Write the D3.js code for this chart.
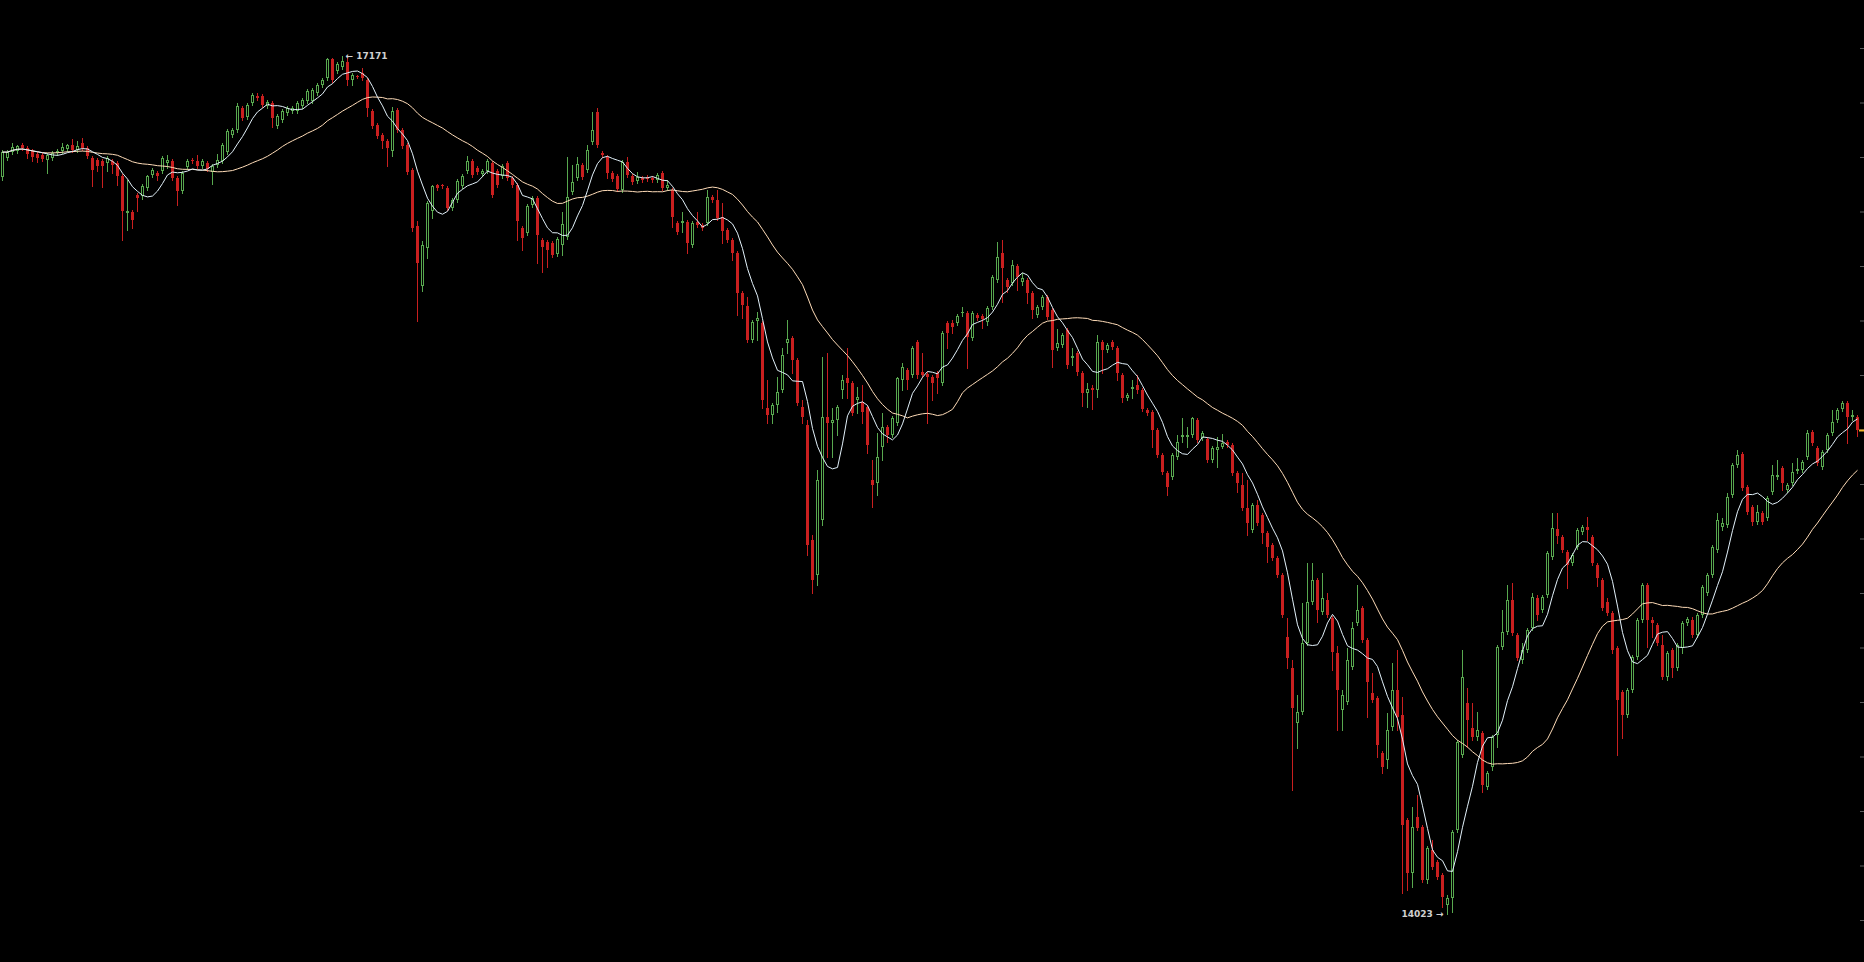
<!DOCTYPE html>
<html><head><meta charset="utf-8">
<script src="https://cdn.jsdelivr.net/npm/d3@7"></script>
<style>
html,body{margin:0;padding:0;background:#000;overflow:hidden}
svg{display:block}
</style></head><body>
<svg id="chart" width="1864" height="962"></svg>
<script>
const open = [
16726,16796,16818,16822,16844,16833,16822,16811,16807,16789,
16796,16814,16822,16829,16844,16826,16851,16833,16796,16789,
16785,16778,16785,16778,16730,16594,16598,16660,16657,16686,
16734,16741,16748,16778,16785,16723,16675,16763,16789,16785,
16767,16778,16745,16770,16785,16818,16880,16899,16980,16947,
16998,17024,17024,16987,16998,16914,16936,16961,16968,16968,
16987,17005,17005,17035,17064,17090,17158,17115,17130,17149,
17082,17097,17108,17082,16968,16917,16881,16859,16822,16972,
16899,16844,16752,16547,16326,16466,16602,16697,16697,16686,
16613,16642,16693,16748,16785,16759,16737,16748,16778,16748,
16730,16778,16723,16697,16539,16521,16624,16649,16495,16488,
16484,16444,16477,16506,16671,16723,16770,16752,16855,16965,
16814,16800,16741,16730,16679,16781,16730,16712,16723,16726,
16723,16715,16741,16686,16679,16558,16558,16561,16477,16561,
16550,16558,16653,16642,16580,16532,16495,16448,16301,16253,
16128,16198,16191,15879,15853,15890,15945,16117,16135,16055,
15882,15816,15394,15266,15468,15846,15824,15835,15945,15989,
15970,15908,15901,15882,15614,15603,15735,15809,15780,15824,
15981,16018,16000,16121,16011,16003,15992,16007,15970,16190,
16190,16190,16227,16227,16135,16220,16216,16194,16249,16348,
16448,16348,16337,16400,16341,16348,16301,16220,16249,16286,
16238,16099,16110,16165,16062,16081,16007,15934,15952,15945,
16121,16092,16121,16099,16000,15916,15948,15963,15945,15871,
15864,15798,15706,15640,15625,15699,15772,15772,15780,15835,
15768,15765,15688,15724,15735,15754,15743,15640,15596,15512,
15431,15523,15486,15420,15376,15328,15266,15038,14924,14723,
14763,15016,15167,15247,15130,15174,15108,14980,14770,14800,
14928,15090,15144,15027,14833,14814,14613,14587,14708,14844,
14752,14366,14172,14377,14341,14146,14257,14212,14165,14055,
14080,14330,14605,14796,14704,14671,14686,14488,14561,14679,
15002,15057,15174,15046,14954,14991,15071,15181,15137,15192,
15332,15434,15405,15350,15310,15369,15424,15442,15405,15302,
15247,15167,15126,14998,14836,14752,14844,14965,15101,15229,
15101,15082,15009,14891,14991,14924,14998,15090,15101,15046,
15119,15200,15266,15358,15442,15449,15559,15670,15710,15589,
15515,15460,15493,15475,15570,15625,15658,15578,15603,15647,
15651,15699,15790,15732,15662,15725,15787,15835,15875,15897,
15846,15846
];
const high = [
16826,16826,16851,16844,16851,16840,16829,16818,16814,16814,
16822,16829,16851,16848,16866,16859,16870,16840,16804,16796,
16792,16804,16792,16785,16737,16715,16605,16668,16701,16734,
16760,16748,16804,16807,16792,16730,16748,16792,16796,16807,
16792,16785,16774,16811,16851,16902,16906,16998,16987,16998,
17035,17035,17031,17009,17005,16957,16976,16987,16987,17005,
17016,17049,17053,17071,17090,17162,17163,17149,17171,17163,
17108,17101,17126,17090,16976,16925,16888,16866,16983,16980,
16906,16851,16760,16565,16492,16638,16697,16701,16701,16693,
16649,16719,16737,16804,16792,16767,16756,16792,16785,16756,
16774,16785,16730,16704,16547,16627,16657,16657,16503,16495,
16492,16506,16598,16800,16770,16800,16778,16844,16965,16980,
16822,16807,16748,16737,16789,16800,16737,16745,16730,16734,
16730,16741,16748,16715,16686,16565,16598,16569,16565,16598,
16558,16679,16660,16679,16631,16539,16503,16455,16308,16286,
16202,16231,16198,15981,15897,15993,16099,16202,16143,16062,
15908,15835,15413,15651,16066,16081,15879,15890,16000,16099,
15978,15956,15963,15890,15688,15787,15860,15816,15849,15992,
16044,16025,16106,16128,16081,16011,16000,16014,16161,16198,
16202,16223,16249,16234,16235,16227,16224,16253,16367,16488,
16495,16356,16422,16407,16374,16356,16308,16257,16293,16293,
16246,16168,16154,16172,16099,16088,16014,15970,15963,16147,
16128,16117,16128,16106,16007,15934,15981,16000,15952,15879,
15871,15805,15713,15647,15713,15780,15842,15809,15846,15842,
15794,15772,15739,15772,15783,15761,15750,15647,15640,15614,
15530,15541,15493,15427,15383,15335,15273,15108,14954,14825,
15163,15310,15310,15255,15273,15200,15115,15005,14844,14998,
15093,15229,15152,15034,14906,14822,14620,14759,14943,14991,
14818,14374,14414,14458,14348,14271,14293,14220,14172,14091,
14330,14660,14991,14851,14796,14763,14693,14547,14679,15009,
15137,15229,15236,15053,15016,15071,15200,15192,15192,15354,
15493,15493,15413,15358,15347,15438,15449,15479,15413,15310,
15255,15181,15134,15005,14844,14851,14972,15108,15236,15236,
15112,15090,15046,14987,14998,15016,15097,15112,15112,15126,
15229,15273,15376,15493,15475,15567,15677,15725,15717,15596,
15523,15523,15500,15556,15670,15688,15666,15603,15677,15695,
15688,15798,15798,15739,15725,15787,15871,15879,15904,15904,
15871,15853
];
const low = [
16715,16789,16811,16814,16826,16796,16785,16781,16785,16741,
16789,16807,16814,16822,16818,16818,16826,16796,16694,16748,
16690,16748,16741,16697,16495,16532,16539,16602,16646,16679,
16726,16715,16741,16759,16715,16624,16668,16756,16778,16759,
16759,16748,16701,16763,16778,16811,16873,16892,16936,16939,
16991,17009,16983,16980,16910,16906,16928,16954,16961,16961,
16980,16998,16998,17027,17057,17082,17075,17108,17123,17064,
17064,17090,17082,16950,16906,16870,16833,16767,16804,16892,
16833,16737,16528,16198,16308,16429,16576,16679,16686,16605,
16605,16635,16686,16741,16726,16737,16730,16741,16653,16690,
16723,16715,16690,16495,16459,16514,16616,16411,16378,16396,
16433,16437,16440,16499,16664,16715,16719,16745,16848,16837,
16800,16723,16712,16675,16671,16726,16701,16704,16708,16712,
16708,16708,16679,16679,16543,16517,16525,16448,16470,16543,
16532,16550,16635,16569,16484,16488,16422,16220,16209,16121,
16121,16128,15879,15824,15824,15864,15937,16081,16007,15890,
15824,15339,15200,15229,15449,15699,15699,15780,15916,15915,
15853,15860,15824,15713,15515,15559,15688,15754,15772,15816,
15945,15948,15992,15989,15992,15824,15908,15934,15963,16099,
16154,16183,16216,16026,16128,16202,16172,16183,16242,16341,
16268,16305,16330,16312,16330,16264,16209,16213,16242,16205,
16029,16092,16102,16025,16037,16000,15886,15882,15875,15919,
16007,16084,16095,15981,15901,15908,15916,15934,15868,15853,
15735,15699,15636,15559,15618,15692,15754,15735,15772,15754,
15761,15680,15680,15662,15732,15735,15633,15570,15504,15413,
15424,15449,15383,15313,15321,15258,15112,14924,14477,14631,
14756,15009,15159,15093,15122,15112,14917,14697,14697,14792,
14921,15082,15020,14745,14800,14598,14539,14557,14697,14697,
14099,14110,14121,14330,14139,14135,14187,14150,14047,14023,
14029,14323,14598,14634,14660,14660,14469,14480,14550,14634,
14994,15049,15046,14954,14943,14983,15064,15101,15130,15185,
15325,15383,15350,15218,15302,15361,15416,15394,15302,15225,
15137,15119,14980,14605,14668,14745,14836,14957,15093,15002,
15038,15009,14884,14880,14891,14917,14980,15082,15038,15038,
15112,15192,15258,15350,15431,15442,15552,15662,15578,15490,
15449,15453,15453,15468,15563,15618,15578,15570,15596,15640,
15644,15692,15743,15670,15655,15717,15780,15827,15868,15750,
15835,15776
];
const close = [
16818,16818,16837,16840,16833,16811,16800,16796,16792,16807,
16814,16822,16837,16844,16826,16840,16833,16804,16752,16767,
16767,16796,16770,16730,16602,16602,16569,16649,16693,16730,
16752,16730,16796,16789,16723,16675,16741,16785,16785,16767,
16785,16756,16767,16789,16844,16895,16899,16987,16943,16991,
17027,17016,16991,17002,16943,16950,16968,16980,16980,16998,
17009,17042,17046,17064,17082,17158,17082,17141,17152,17082,
17101,17093,17090,16980,16914,16877,16859,16833,16968,16899,
16840,16745,16539,16411,16477,16631,16693,16686,16693,16613,
16642,16712,16730,16785,16734,16745,16748,16785,16660,16697,
16767,16723,16697,16565,16503,16620,16649,16514,16470,16459,
16440,16499,16554,16653,16708,16774,16726,16826,16899,16844,
16807,16741,16719,16682,16781,16734,16708,16726,16715,16719,
16715,16734,16686,16697,16580,16525,16565,16484,16558,16550,
16539,16653,16642,16576,16528,16495,16448,16301,16257,16128,
16194,16209,15908,15853,15890,15938,16074,16132,16055,15897,
15846,15376,15248,15614,15846,15824,15835,15882,15981,15970,
15860,15919,15864,15743,15596,15699,15809,15780,15842,15989,
16029,15981,16099,16000,16000,15992,15970,15989,16154,16154,
16176,16216,16231,16139,16227,16209,16205,16246,16359,16433,
16392,16323,16403,16359,16356,16301,16238,16249,16286,16213,
16092,16117,16147,16037,16070,16011,15934,15948,15945,16121,
16092,16110,16102,16007,15916,15926,15955,15945,15875,15860,
15798,15706,15644,15589,15706,15754,15780,15780,15842,15761,
15787,15688,15732,15735,15750,15743,15640,15603,15512,15457,
15523,15457,15420,15368,15328,15266,15119,14961,14778,14763,
15016,15167,15247,15137,15181,15119,14983,14844,14825,14954,
15071,15137,15027,14873,14807,14642,14561,14697,14844,14745,
14348,14172,14341,14337,14146,14264,14194,14157,14084,14080,
14323,14653,14891,14734,14671,14697,14495,14539,14671,15002,
15057,15174,15053,14961,14991,15064,15185,15119,15185,15347,
15438,15409,15358,15302,15339,15431,15442,15431,15310,15255,
15144,15126,14991,14807,14752,14844,14965,15101,15229,15101,
15090,15016,14891,14980,14924,15009,15090,15104,15046,15119,
15222,15266,15368,15468,15457,15552,15670,15706,15585,15497,
15460,15497,15460,15548,15633,15633,15603,15596,15644,15655,
15680,15787,15750,15677,15717,15780,15827,15871,15897,15846,
15853,15798
];
const priceTicks = [14000,14200,14400,14600,14800,15000,15200,15400,15600,15800,16000,16200,16400,16600,16800,17000,17200];
const maShortPeriod = 7;
const maLongPeriod = 30;

const W = 1864, H = 962;
const UP = "#58a84f", DOWN = "#c91f1f";
const n = close.length;
const idx = d3.range(n);

const svg = d3.select("#chart");
svg.append("rect").attr("width", W).attr("height", H).attr("fill", "#000");

const x = d3.scaleBand().domain(idx).range([0, 1860]).paddingInner(0).paddingOuter(0);
const y = d3.scaleLinear().domain([14000, 17200]).range([920, 48]);
const col = i => Math.floor(x(i) + x.bandwidth() / 2);
const cx = i => x(i) + x.bandwidth() / 2;

// right edge ticks
const axis = d3.axisLeft(y).tickValues(priceTicks).tickSize(4).tickFormat("");
const ag = svg.append("g").attr("transform", `translate(${W},0)`).call(axis);
ag.select(".domain").remove();
ag.selectAll(".tick line").attr("stroke", "#5a5a5a");

// candles
const cg = svg.append("g");
const isUp = i => close[i] >= open[i];
cg.selectAll("line.wick").data(idx).join("line")
  .attr("class", "wick")
  .attr("x1", i => col(i) + 0.5).attr("x2", i => col(i) + 0.5)
  .attr("y1", i => Math.round(y(high[i]))).attr("y2", i => Math.round(y(low[i])) + 1)
  .attr("stroke", i => isUp(i) ? UP : DOWN).attr("stroke-width", 1);

cg.selectAll("rect.dn").data(idx.filter(i => !isUp(i))).join("rect")
  .attr("class", "dn")
  .attr("x", i => col(i) - 1).attr("width", 3)
  .attr("y", i => Math.round(y(open[i])))
  .attr("height", i => Math.max(1, Math.round(y(close[i])) - Math.round(y(open[i]))))
  .attr("fill", DOWN);

cg.selectAll("rect.up").data(idx.filter(isUp)).join("rect")
  .attr("class", "up")
  .attr("x", i => col(i) - 0.5).attr("width", 2)
  .attr("y", i => Math.round(y(close[i])) + 0.5)
  .attr("height", i => Math.max(0.01, Math.round(y(open[i])) - Math.round(y(close[i])) - 1))
  .attr("fill", "#000").attr("stroke", UP).attr("stroke-width", 1);

// moving averages
function sma(vals, p) {
  return vals.map((v, i) => d3.mean(vals.slice(Math.max(0, i - p + 1), i + 1)));
}
const maLong = sma(close, maLongPeriod);
const maShort = sma(close, maShortPeriod);
const line = arr => d3.line().x(i => cx(i)).y(i => y(arr[i]))(idx);
svg.append("path").attr("d", line(maLong)).attr("fill", "none").attr("stroke", "#ffdcb8").attr("stroke-width", 1);
svg.append("path").attr("d", line(maShort)).attr("fill", "none").attr("stroke", "#e2f1fa").attr("stroke-width", 1);

// last price marker
svg.append("line")
  .attr("x1", 1859).attr("x2", W)
  .attr("y1", Math.round(y(close[n - 1])) + 0.5).attr("y2", Math.round(y(close[n - 1])) + 0.5)
  .attr("stroke", "#f0b429").attr("stroke-width", 2);

// high / low annotations
const hiI = d3.maxIndex(high), loI = d3.minIndex(low);
const font = "bold 9px 'DejaVu Sans', sans-serif";
svg.append("text")
  .attr("x", cx(hiI) + 3).attr("y", y(high[hiI]))
  .attr("dominant-baseline", "central")
  .attr("fill", "#d0d0d0").style("font", font)
  .text("\u2190 " + high[hiI]);
svg.append("text")
  .attr("x", cx(loI) - 4).attr("y", y(low[loI]))
  .attr("dominant-baseline", "central").attr("text-anchor", "end")
  .attr("fill", "#d0d0d0").style("font", font)
  .text(low[loI] + " \u2192");
</script>
</body></html>
